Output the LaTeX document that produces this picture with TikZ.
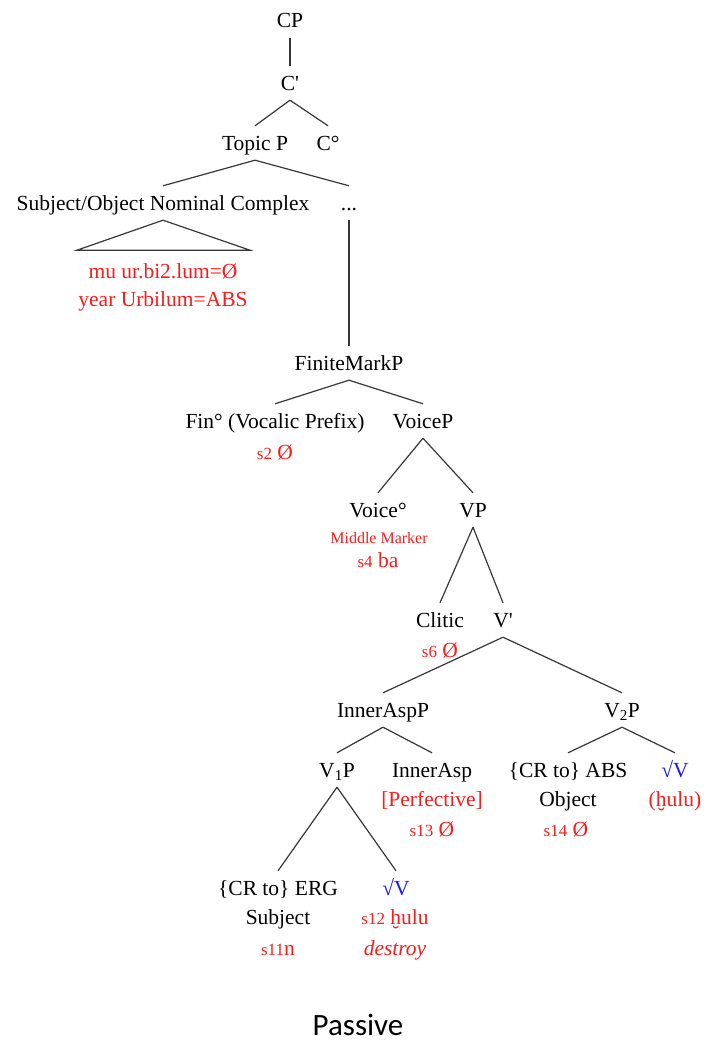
\documentclass[tikz,border=0pt]{standalone}
\usepackage{fontspec}
\setmainfont{Liberation Serif}
\newfontfamily\plainserif{Liberation Serif}
\newfontfamily\capfont{Carlito}
\usetikzlibrary{calc}

\definecolor{glosscol}{RGB}{255,25,25}
\definecolor{rootblue}{RGB}{25,25,255}
\definecolor{branchcol}{RGB}{55,55,55}

\tikzset{
  cat/.style={anchor=base, font=\fontsize{21.5}{26}\selectfont,
    text height=14pt, text depth=0pt, inner xsep=2pt, inner ysep=10pt},
  gloss/.style={cat, text=glosscol},
  small gloss/.style={anchor=base, font=\fontsize{16}{19}\selectfont,
    text=glosscol, inner sep=1pt},
  branch/.style={draw=branchcol, line width=1.2pt},
}
\newcommand{\idx}[1]{{\fontsize{17}{20}\selectfont s#1}}
\newcommand{\barmark}{{\plainserif '}}

\begin{document}
\begin{tikzpicture}[x=1pt,y=-1pt]
\path[use as bounding box] (0,0) rectangle (716,1041);

% upper clause spine
\node[cat] (cp)    at (290,28)  {CP};
\node[cat] (cbar)  at (290,90)  {C\barmark};
\node[cat] (topp)  at (255,150) {Topic P};
\node[cat] (chead) at (328,150) {C°};
\node[cat] (snc)   at (163,210) {Subject/Object Nominal Complex};
\node[cat] (dots)  at (349,210) {...};
\node[gloss] (mu)   at (163,278) {mu ur.bi2.lum=Ø};
\node[gloss] (year) at (163,306) {year Urbilum=ABS};

% finite and voice layers
\node[cat] (fmp)    at (349,370) {FiniteMarkP};
\node[cat] (fin)    at (275,428) {Fin° (Vocalic Prefix)};
\node[cat] (voicep) at (423,428) {VoiceP};
\node[gloss] (s2)   at (275,459) {\idx{2} Ø};
\node[cat] (voice)  at (378,517) {Voice°};
\node[cat] (vp)     at (473,517) {VP};
\node[small gloss] (mm) at (379,543) {Middle Marker};
\node[gloss] (s4)   at (378,567) {\idx{4} ba};
\node[cat] (clitic) at (440,627) {Clitic};
\node[cat] (vbar)   at (503,627) {V\barmark};
\node[gloss] (s6)   at (440,657) {\idx{6} Ø};

% inner aspect and the two verbal shells
\node[cat] (iap)    at (383,717) {InnerAspP};
\node[cat] (v2p)    at (622,717) {V\textsubscript{2}P};
\node[cat] (v1p)    at (337,777) {V\textsubscript{1}P};
\node[cat] (ia)     at (432,777) {InnerAsp};
\node[gloss] (perf) at (432,806) {[Perfective]};
\node[gloss] (s13)  at (432,836) {\idx{13} Ø};
\node[cat] (absobj) at (568,777) {\{CR to\} ABS};
\node[cat] (obj)    at (568,806) {Object};
\node[gloss] (s14)  at (566,836) {\idx{14} Ø};
\node[cat, text=rootblue] (rootb) at (675,777) {√V};
\node[gloss] (hulub) at (675,806) {(ḫulu)};
\node[cat] (erg)    at (278,895) {\{CR to\} ERG};
\node[cat] (subj)   at (278,924) {Subject};
\node[gloss] (s11)  at (278,955) {\idx{11}n};
\node[cat, text=rootblue] (roota) at (396,895) {√V};
\node[gloss] (s12)  at (395,924) {\idx{12} ḫulu};
\node[gloss, font=\fontsize{21.5}{26}\selectfont\itshape] (destroy) at (395,955) {destroy};

\node[anchor=base, font=\capfont\fontsize{31}{36}\selectfont] (title) at (358,1035) {Passive};

% branches
\draw[branch] (cp.south) -- (cbar.north);
\draw[branch] (cbar.south) -- (topp.north);
\draw[branch] (cbar.south) -- (chead.north);
\draw[branch] (topp.south) -- (snc.north);
\draw[branch] (topp.south) -- (dots.north);
\draw[branch] ($(snc.south)+(-86,30)$) -- (snc.south) -- ($(snc.south)+(87,30)$) -- cycle;
\draw[branch] (dots.south) -- (fmp.north);
\draw[branch] (fmp.south) -- (fin.north);
\draw[branch] (fmp.south) -- (voicep.north);
\draw[branch] (voicep.south) -- (voice.north);
\draw[branch] (voicep.south) -- (vp.north);
\draw[branch] (vp.south) -- (clitic.north);
\draw[branch] (vp.south) -- (vbar.north);
\draw[branch] (vbar.south) -- (iap.north);
\draw[branch] (vbar.south) -- (v2p.north);
\draw[branch] (iap.south) -- (v1p.north);
\draw[branch] (iap.south) -- (ia.north);
\draw[branch] (v2p.south) -- (absobj.north);
\draw[branch] (v2p.south) -- (rootb.north);
\draw[branch] (v1p.south) -- (erg.north);
\draw[branch] (v1p.south) -- (roota.north);
\end{tikzpicture}
\end{document}
